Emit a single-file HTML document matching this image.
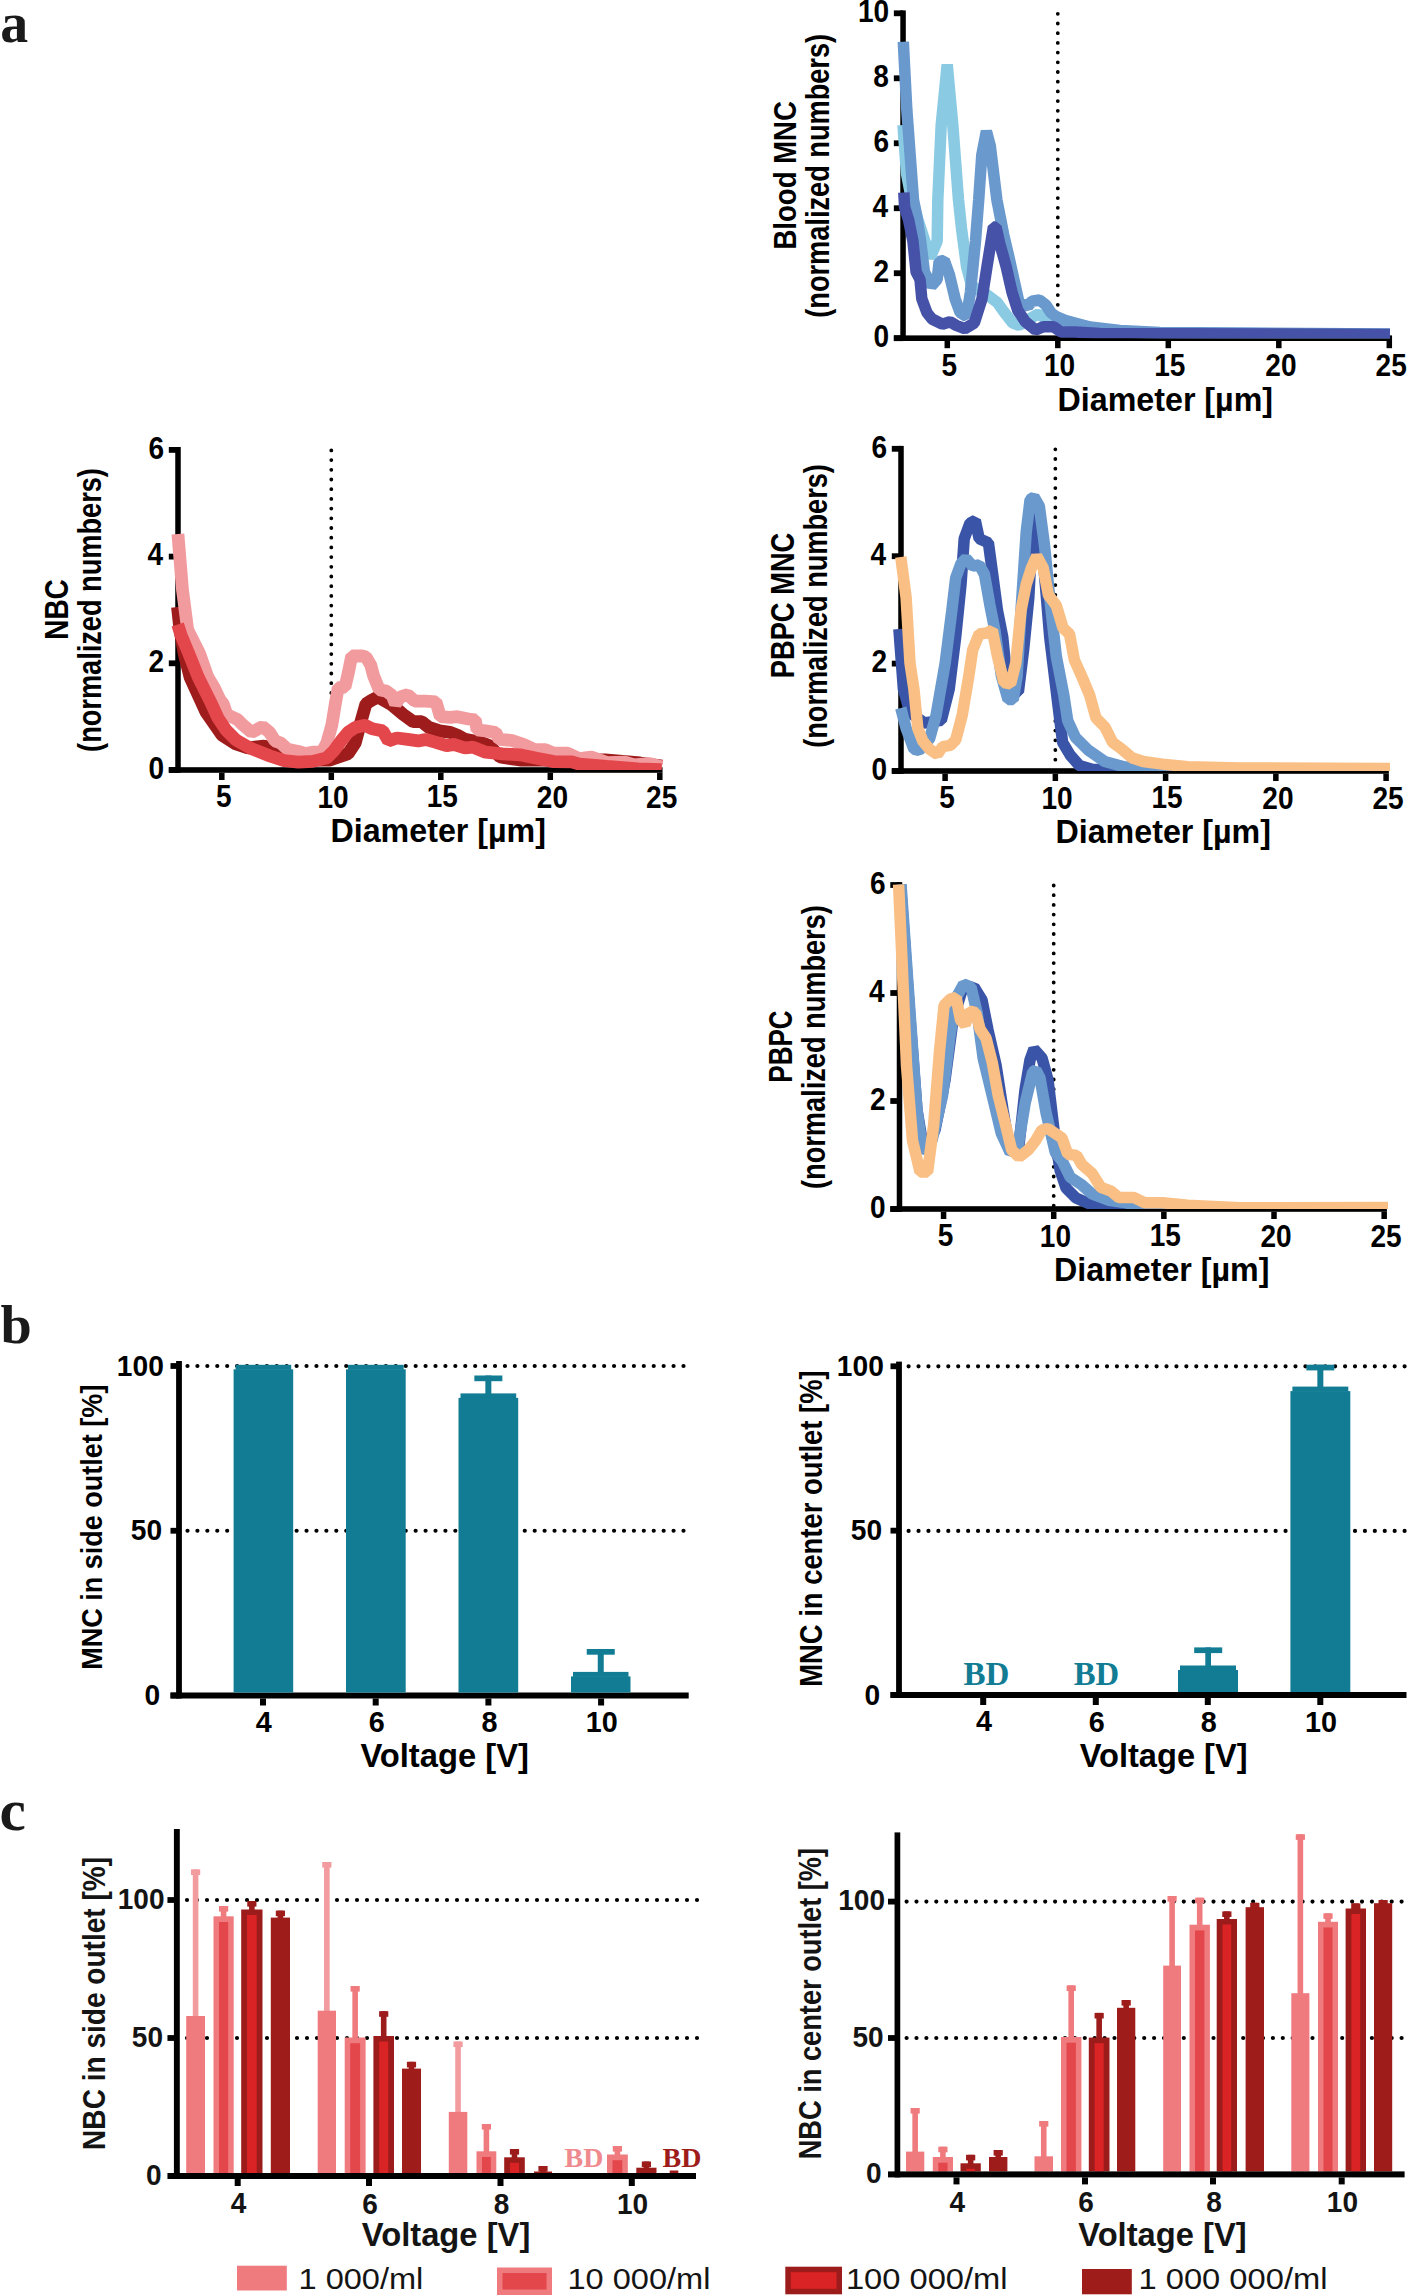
<!DOCTYPE html>
<html><head><meta charset="utf-8"><style>
html,body{margin:0;padding:0;background:#fff;}
svg{display:block;}
</style></head><body>
<svg width="1408" height="2296" viewBox="0 0 1408 2296">
<rect width="1408" height="2296" fill="#fff"/>
<text transform="translate(0.20,42.45) scale(0.9916,1)" font-family="&quot;Liberation Serif&quot;, serif" font-weight="bold" font-size="56.37" fill="#1a1a1a" >a</text>
<text transform="translate(0.39,1343.36) scale(1.0152,1)" font-family="&quot;Liberation Serif&quot;, serif" font-weight="bold" font-size="55.43" fill="#1a1a1a" >b</text>
<rect x="900.30" y="10.40" width="5.50" height="330.60" fill="#000"/>
<rect x="893.85" y="335.30" width="9.20" height="5.80" fill="#000"/>
<text transform="translate(873.60,346.90) scale(0.9200,1)" font-family="&quot;Liberation Sans&quot;, sans-serif" font-weight="bold" font-size="30.50" fill="#000" >0</text>
<rect x="893.85" y="270.32" width="9.20" height="5.80" fill="#000"/>
<text transform="translate(873.57,282.07) scale(0.9200,1)" font-family="&quot;Liberation Sans&quot;, sans-serif" font-weight="bold" font-size="30.50" fill="#000" >2</text>
<rect x="893.85" y="205.34" width="9.20" height="5.80" fill="#000"/>
<text transform="translate(872.60,216.93) scale(0.9200,1)" font-family="&quot;Liberation Sans&quot;, sans-serif" font-weight="bold" font-size="30.50" fill="#000" >4</text>
<rect x="893.85" y="140.36" width="9.20" height="5.80" fill="#000"/>
<text transform="translate(873.46,151.96) scale(0.9200,1)" font-family="&quot;Liberation Sans&quot;, sans-serif" font-weight="bold" font-size="30.50" fill="#000" >6</text>
<rect x="893.85" y="75.38" width="9.20" height="5.80" fill="#000"/>
<text transform="translate(873.31,86.98) scale(0.9200,1)" font-family="&quot;Liberation Sans&quot;, sans-serif" font-weight="bold" font-size="30.50" fill="#000" >8</text>
<rect x="893.85" y="10.40" width="9.20" height="5.80" fill="#000"/>
<text transform="translate(857.99,22.00) scale(0.9200,1)" font-family="&quot;Liberation Sans&quot;, sans-serif" font-weight="bold" font-size="30.50" fill="#000" >10</text>
<rect x="893.85" y="335.40" width="498.20" height="5.60" fill="#000"/>
<rect x="944.55" y="341.00" width="5.50" height="7.20" fill="#000"/>
<text transform="translate(941.46,375.68) scale(0.9200,1)" font-family="&quot;Liberation Sans&quot;, sans-serif" font-weight="bold" font-size="30.50" fill="#000" >5</text>
<rect x="1055.05" y="341.00" width="5.50" height="7.20" fill="#000"/>
<text transform="translate(1043.89,376.00) scale(0.9200,1)" font-family="&quot;Liberation Sans&quot;, sans-serif" font-weight="bold" font-size="30.50" fill="#000" >10</text>
<rect x="1165.55" y="341.00" width="5.50" height="7.20" fill="#000"/>
<text transform="translate(1154.20,375.68) scale(0.9200,1)" font-family="&quot;Liberation Sans&quot;, sans-serif" font-weight="bold" font-size="30.50" fill="#000" >15</text>
<rect x="1276.05" y="341.00" width="5.50" height="7.20" fill="#000"/>
<text transform="translate(1265.28,376.00) scale(0.9200,1)" font-family="&quot;Liberation Sans&quot;, sans-serif" font-weight="bold" font-size="30.50" fill="#000" >20</text>
<rect x="1386.55" y="341.00" width="5.50" height="7.20" fill="#000"/>
<text transform="translate(1375.60,376.00) scale(0.9200,1)" font-family="&quot;Liberation Sans&quot;, sans-serif" font-weight="bold" font-size="30.50" fill="#000" >25</text>
<line x1="1057.80" y1="13.80" x2="1057.80" y2="334.40" stroke="#000" stroke-width="3.80" stroke-linecap="round" stroke-dasharray="0 9.7"/>
<clipPath id="c27"><rect x="873.05" y="-26.700000000000045" width="546.2500000000002" height="364.90000000000003"/></clipPath><g clip-path="url(#c27)">
<polyline points="903.0,125.0 906.5,173.4 911.6,200.0 920.6,228.0 930.2,257.8 937.2,241.0 937.8,200.0 941.2,125.0 947.2,64.5 952.8,125.0 958.5,200.0 961.5,228.4 966.6,266.7 971.7,285.9 987.0,294.8 997.3,302.5 1003.7,311.5 1012.6,323.0 1019.0,325.5 1029.2,319.0 1038.2,314.0 1048.4,320.4 1061.0,323.0 1075.0,328.0 1100.0,331.0 1150.0,333.0 1390.0,334.5" fill="none" stroke="#8ACBE3" stroke-width="11.5" stroke-linejoin="bevel" stroke-linecap="butt"/>
<polyline points="903.3,41.7 906.8,109.5 913.5,200.0 916.7,215.6 920.6,241.0 924.4,271.8 931.4,285.9 937.2,279.5 939.1,261.6 944.2,260.3 949.3,274.4 955.1,298.7 960.2,312.7 966.6,316.6 970.4,292.3 975.5,241.0 978.7,200.0 981.8,155.0 986.4,131.2 990.3,146.0 996.9,200.0 1003.7,234.7 1008.8,256.5 1013.9,279.5 1019.0,302.5 1028.0,306.3 1031.8,301.2 1039.5,300.0 1045.9,305.0 1051.0,312.7 1056.1,316.6 1065.0,320.4 1075.0,323.0 1090.0,327.0 1120.0,330.5 1160.0,332.5 1390.0,334.0" fill="none" stroke="#6A99CD" stroke-width="11.5" stroke-linejoin="bevel" stroke-linecap="butt"/>
<polyline points="903.8,192.5 904.6,207.0 908.6,220.0 912.9,241.0 916.1,271.8 920.0,279.5 921.8,298.7 927.0,312.7 932.0,319.0 942.3,324.2 950.0,321.7 956.4,325.5 964.7,328.7 974.3,323.0 982.0,298.7 987.0,266.7 993.4,227.0 996.0,227.0 999.8,243.7 1006.2,266.7 1012.0,292.3 1017.7,310.2 1025.4,321.7 1035.6,330.0 1043.3,326.8 1053.5,326.8 1061.2,332.0 1075.0,332.0 1100.0,333.5 1390.0,334.5" fill="none" stroke="#4652A8" stroke-width="11.5" stroke-linejoin="bevel" stroke-linecap="butt"/>
</g>
<text transform="translate(1057.49,410.50) scale(0.9644,1)" font-family="&quot;Liberation Sans&quot;, sans-serif" font-weight="bold" font-size="33.43" fill="#000">Diameter [µm]</text>
<text transform="translate(828.95,317.70) rotate(-90) scale(0.8417,1)" font-family="&quot;Liberation Sans&quot;, sans-serif" font-weight="bold" font-size="32.29" fill="#000">(normalized numbers)</text>
<text transform="translate(795.94,249.60) rotate(-90) scale(0.8656,1)" font-family="&quot;Liberation Sans&quot;, sans-serif" font-weight="bold" font-size="31.86" fill="#000">Blood MNC</text>
<rect x="175.25" y="447.00" width="5.50" height="325.80" fill="#000"/>
<rect x="168.80" y="767.10" width="9.20" height="5.80" fill="#000"/>
<text transform="translate(148.55,778.70) scale(0.9200,1)" font-family="&quot;Liberation Sans&quot;, sans-serif" font-weight="bold" font-size="30.50" fill="#000" >0</text>
<rect x="168.80" y="660.40" width="9.20" height="5.80" fill="#000"/>
<text transform="translate(148.52,672.15) scale(0.9200,1)" font-family="&quot;Liberation Sans&quot;, sans-serif" font-weight="bold" font-size="30.50" fill="#000" >2</text>
<rect x="168.80" y="553.70" width="9.20" height="5.80" fill="#000"/>
<text transform="translate(147.55,565.29) scale(0.9200,1)" font-family="&quot;Liberation Sans&quot;, sans-serif" font-weight="bold" font-size="30.50" fill="#000" >4</text>
<rect x="168.80" y="447.00" width="9.20" height="5.80" fill="#000"/>
<text transform="translate(148.41,458.60) scale(0.9200,1)" font-family="&quot;Liberation Sans&quot;, sans-serif" font-weight="bold" font-size="30.50" fill="#000" >6</text>
<rect x="168.80" y="767.20" width="493.75" height="5.60" fill="#000"/>
<rect x="219.05" y="772.80" width="5.50" height="7.20" fill="#000"/>
<text transform="translate(215.96,807.48) scale(0.9200,1)" font-family="&quot;Liberation Sans&quot;, sans-serif" font-weight="bold" font-size="30.50" fill="#000" >5</text>
<rect x="328.55" y="772.80" width="5.50" height="7.20" fill="#000"/>
<text transform="translate(317.39,807.80) scale(0.9200,1)" font-family="&quot;Liberation Sans&quot;, sans-serif" font-weight="bold" font-size="30.50" fill="#000" >10</text>
<rect x="438.05" y="772.80" width="5.50" height="7.20" fill="#000"/>
<text transform="translate(426.70,807.48) scale(0.9200,1)" font-family="&quot;Liberation Sans&quot;, sans-serif" font-weight="bold" font-size="30.50" fill="#000" >15</text>
<rect x="547.55" y="772.80" width="5.50" height="7.20" fill="#000"/>
<text transform="translate(536.78,807.80) scale(0.9200,1)" font-family="&quot;Liberation Sans&quot;, sans-serif" font-weight="bold" font-size="30.50" fill="#000" >20</text>
<rect x="657.05" y="772.80" width="5.50" height="7.20" fill="#000"/>
<text transform="translate(646.10,807.80) scale(0.9200,1)" font-family="&quot;Liberation Sans&quot;, sans-serif" font-weight="bold" font-size="30.50" fill="#000" >25</text>
<line x1="331.30" y1="450.40" x2="331.30" y2="761.30" stroke="#000" stroke-width="3.80" stroke-linecap="round" stroke-dasharray="0 9.7"/>
<clipPath id="c56"><rect x="148" y="409.9" width="541.8" height="360.1"/></clipPath><g clip-path="url(#c56)">
<polyline points="177.5,607.0 180.0,630.0 184.0,653.0 190.0,677.0 206.0,712.0 222.0,735.0 236.0,744.0 248.0,748.0 264.0,746.0 280.0,752.0 300.0,760.0 330.0,760.0 348.1,753.6 355.2,743.0 360.9,721.7 365.9,703.9 371.4,700.4 378.0,697.0 392.0,705.0 403.4,714.6 413.3,721.7 421.8,721.7 428.9,727.4 439.6,730.9 450.2,732.3 457.3,735.2 465.0,739.4 480.0,742.0 490.0,746.0 500.0,757.0 520.0,760.0 560.0,760.0 605.0,760.0 640.0,763.0 662.0,766.0" fill="none" stroke="#9E1C1C" stroke-width="12.8" stroke-linejoin="bevel" stroke-linecap="butt"/>
<polyline points="177.9,534.1 182.5,590.0 187.7,630.0 199.5,653.4 207.7,676.9 214.7,688.6 220.0,700.0 223.3,703.9 226.8,714.6 237.5,719.5 243.2,725.2 251.7,732.3 262.4,726.6 269.5,732.3 275.0,740.9 280.7,743.0 287.8,749.4 298.4,751.5 305.5,753.6 312.6,752.2 321.8,752.2 326.8,743.0 331.8,725.2 335.3,703.9 338.2,687.6 345.0,687.0 348.5,672.0 351.7,656.0 362.0,656.0 366.0,657.0 370.7,664.9 373.5,675.5 379.2,689.7 386.3,691.1 392.0,695.4 395.5,703.9 400.5,696.8 407.6,694.7 414.7,701.1 425.4,701.1 436.0,701.8 440.3,716.7 450.2,717.4 457.3,716.7 468.5,719.0 475.3,719.8 477.0,730.0 485.6,730.9 495.8,732.6 499.2,739.4 511.2,740.3 523.9,744.6 535.0,749.7 545.3,749.7 553.8,753.1 567.8,753.2 579.5,758.7 591.3,757.1 606.9,762.6 624.8,762.2 634.2,765.0 649.8,763.7 661.6,767.0" fill="none" stroke="#F29B9F" stroke-width="12.8" stroke-linejoin="bevel" stroke-linecap="butt"/>
<polyline points="177.7,624.5 181.0,635.0 188.7,653.4 198.1,676.9 209.8,700.3 218.0,718.0 226.0,730.0 236.0,740.0 250.0,748.0 270.0,756.0 284.2,760.7 298.4,762.2 312.6,761.4 326.8,757.9 333.9,750.8 341.0,740.9 348.1,732.3 355.2,727.4 365.0,725.2 372.1,728.8 382.8,730.9 388.4,740.9 397.0,738.0 407.6,739.4 418.3,740.9 425.4,739.4 436.0,742.3 446.7,745.7 453.8,744.4 465.0,748.0 472.8,747.1 485.6,752.2 502.6,753.9 519.7,754.8 536.7,758.2 553.8,761.6 571.7,761.9 579.5,764.2 606.9,766.5 638.0,768.9 661.6,769.6" fill="none" stroke="#E4474B" stroke-width="12.8" stroke-linejoin="bevel" stroke-linecap="butt"/>
</g>
<text transform="translate(330.44,842.30) scale(0.9644,1)" font-family="&quot;Liberation Sans&quot;, sans-serif" font-weight="bold" font-size="33.43" fill="#000">Diameter [µm]</text>
<text transform="translate(100.90,751.90) rotate(-90) scale(0.8417,1)" font-family="&quot;Liberation Sans&quot;, sans-serif" font-weight="bold" font-size="32.29" fill="#000">(normalized numbers)</text>
<text transform="translate(67.88,639.82) rotate(-90) scale(0.8468,1)" font-family="&quot;Liberation Sans&quot;, sans-serif" font-weight="bold" font-size="33.05" fill="#000">NBC</text>
<rect x="898.25" y="445.90" width="5.50" height="327.90" fill="#000"/>
<rect x="891.80" y="768.10" width="9.20" height="5.80" fill="#000"/>
<text transform="translate(871.55,779.70) scale(0.9200,1)" font-family="&quot;Liberation Sans&quot;, sans-serif" font-weight="bold" font-size="30.50" fill="#000" >0</text>
<rect x="891.80" y="660.70" width="9.20" height="5.80" fill="#000"/>
<text transform="translate(871.52,672.45) scale(0.9200,1)" font-family="&quot;Liberation Sans&quot;, sans-serif" font-weight="bold" font-size="30.50" fill="#000" >2</text>
<rect x="891.80" y="553.30" width="9.20" height="5.80" fill="#000"/>
<text transform="translate(870.55,564.89) scale(0.9200,1)" font-family="&quot;Liberation Sans&quot;, sans-serif" font-weight="bold" font-size="30.50" fill="#000" >4</text>
<rect x="891.80" y="445.90" width="9.20" height="5.80" fill="#000"/>
<text transform="translate(871.41,457.50) scale(0.9200,1)" font-family="&quot;Liberation Sans&quot;, sans-serif" font-weight="bold" font-size="30.50" fill="#000" >6</text>
<rect x="891.80" y="768.20" width="497.05" height="5.60" fill="#000"/>
<rect x="942.35" y="773.80" width="5.50" height="7.20" fill="#000"/>
<text transform="translate(939.26,808.48) scale(0.9200,1)" font-family="&quot;Liberation Sans&quot;, sans-serif" font-weight="bold" font-size="30.50" fill="#000" >5</text>
<rect x="1052.60" y="773.80" width="5.50" height="7.20" fill="#000"/>
<text transform="translate(1041.44,808.80) scale(0.9200,1)" font-family="&quot;Liberation Sans&quot;, sans-serif" font-weight="bold" font-size="30.50" fill="#000" >10</text>
<rect x="1162.85" y="773.80" width="5.50" height="7.20" fill="#000"/>
<text transform="translate(1151.50,808.48) scale(0.9200,1)" font-family="&quot;Liberation Sans&quot;, sans-serif" font-weight="bold" font-size="30.50" fill="#000" >15</text>
<rect x="1273.10" y="773.80" width="5.50" height="7.20" fill="#000"/>
<text transform="translate(1262.33,808.80) scale(0.9200,1)" font-family="&quot;Liberation Sans&quot;, sans-serif" font-weight="bold" font-size="30.50" fill="#000" >20</text>
<rect x="1383.35" y="773.80" width="5.50" height="7.20" fill="#000"/>
<text transform="translate(1372.40,808.80) scale(0.9200,1)" font-family="&quot;Liberation Sans&quot;, sans-serif" font-weight="bold" font-size="30.50" fill="#000" >25</text>
<line x1="1055.35" y1="449.30" x2="1055.35" y2="760.20" stroke="#000" stroke-width="3.80" stroke-linecap="round" stroke-dasharray="0 9.7"/>
<clipPath id="c85"><rect x="871" y="408.79999999999995" width="545.0999999999999" height="362.20000000000005"/></clipPath><g clip-path="url(#c85)">
<polyline points="898.9,629.0 903.4,689.0 910.0,712.6 924.3,723.0 941.3,720.4 949.2,689.0 955.7,636.8 961.0,584.5 964.2,538.8 970.0,523.1 975.3,520.5 979.2,538.8 988.4,542.7 992.3,571.5 997.5,610.7 1002.7,636.8 1006.6,676.0 1010.6,693.0 1018.4,691.7 1023.6,649.9 1028.8,597.6 1034.0,499.6 1040.0,520.0 1049.7,636.8 1057.6,702.1 1062.6,742.4 1070.2,755.1 1079.2,765.4 1092.0,769.2 1390.0,769.5" fill="none" stroke="#3A55A7" stroke-width="11.5" stroke-linejoin="bevel" stroke-linecap="butt"/>
<polyline points="900.8,708.0 906.1,728.3 913.9,749.2 919.1,750.5 929.6,738.7 936.1,715.2 945.2,663.0 951.8,610.7 955.7,578.0 960.9,563.6 966.1,558.4 972.7,566.2 979.2,564.9 984.4,574.1 989.7,604.1 994.9,630.3 1001.4,676.0 1008.0,699.5 1013.2,699.5 1017.1,676.0 1021.0,610.7 1026.2,532.3 1030.1,499.6 1034.0,497.0 1039.3,506.1 1044.5,545.3 1049.7,597.6 1056.3,656.4 1063.8,695.0 1067.7,720.6 1075.3,737.2 1088.1,750.0 1104.7,761.5 1123.9,766.7 1149.5,769.2 1390.0,769.5" fill="none" stroke="#6A99CD" stroke-width="11.5" stroke-linejoin="bevel" stroke-linecap="butt"/>
<polyline points="900.8,557.1 906.1,597.6 910.0,663.0 913.9,689.0 917.8,728.3 923.0,741.3 929.6,749.2 937.4,754.4 942.6,746.6 950.5,745.3 955.7,740.0 962.2,715.2 968.8,676.0 972.7,649.9 979.2,634.0 987.0,633.0 992.3,630.0 997.5,656.4 1004.0,682.5 1010.6,683.8 1015.8,663.0 1021.0,610.7 1026.2,584.5 1031.4,568.0 1036.7,556.0 1043.2,568.0 1048.4,595.0 1056.3,605.4 1063.0,628.0 1069.5,634.0 1074.4,660.0 1083.2,679.7 1089.6,695.0 1096.0,718.0 1104.9,727.0 1112.6,742.4 1121.5,748.8 1131.8,757.7 1143.1,761.5 1162.3,764.1 1187.8,766.7 1240.0,768.0 1390.0,768.5" fill="none" stroke="#F9BF84" stroke-width="11.5" stroke-linejoin="bevel" stroke-linecap="butt"/>
</g>
<text transform="translate(1055.44,843.30) scale(0.9644,1)" font-family="&quot;Liberation Sans&quot;, sans-serif" font-weight="bold" font-size="33.43" fill="#000">Diameter [µm]</text>
<text transform="translate(826.90,747.85) rotate(-90) scale(0.8417,1)" font-family="&quot;Liberation Sans&quot;, sans-serif" font-weight="bold" font-size="32.29" fill="#000">(normalized numbers)</text>
<text transform="translate(793.88,678.23) rotate(-90) scale(0.8258,1)" font-family="&quot;Liberation Sans&quot;, sans-serif" font-weight="bold" font-size="33.05" fill="#000">PBPC MNC</text>
<rect x="896.75" y="882.10" width="5.50" height="329.70" fill="#000"/>
<rect x="890.30" y="1206.10" width="9.20" height="5.80" fill="#000"/>
<text transform="translate(870.05,1217.70) scale(0.9200,1)" font-family="&quot;Liberation Sans&quot;, sans-serif" font-weight="bold" font-size="30.50" fill="#000" >0</text>
<rect x="890.30" y="1098.10" width="9.20" height="5.80" fill="#000"/>
<text transform="translate(870.02,1109.85) scale(0.9200,1)" font-family="&quot;Liberation Sans&quot;, sans-serif" font-weight="bold" font-size="30.50" fill="#000" >2</text>
<rect x="890.30" y="990.10" width="9.20" height="5.80" fill="#000"/>
<text transform="translate(869.05,1001.69) scale(0.9200,1)" font-family="&quot;Liberation Sans&quot;, sans-serif" font-weight="bold" font-size="30.50" fill="#000" >4</text>
<rect x="890.30" y="882.10" width="9.20" height="5.80" fill="#000"/>
<text transform="translate(869.91,893.70) scale(0.9200,1)" font-family="&quot;Liberation Sans&quot;, sans-serif" font-weight="bold" font-size="30.50" fill="#000" >6</text>
<rect x="890.30" y="1206.20" width="496.61" height="5.60" fill="#000"/>
<rect x="940.81" y="1211.80" width="5.50" height="7.20" fill="#000"/>
<text transform="translate(937.72,1246.48) scale(0.9200,1)" font-family="&quot;Liberation Sans&quot;, sans-serif" font-weight="bold" font-size="30.50" fill="#000" >5</text>
<rect x="1050.96" y="1211.80" width="5.50" height="7.20" fill="#000"/>
<text transform="translate(1039.80,1246.80) scale(0.9200,1)" font-family="&quot;Liberation Sans&quot;, sans-serif" font-weight="bold" font-size="30.50" fill="#000" >10</text>
<rect x="1161.11" y="1211.80" width="5.50" height="7.20" fill="#000"/>
<text transform="translate(1149.76,1246.48) scale(0.9200,1)" font-family="&quot;Liberation Sans&quot;, sans-serif" font-weight="bold" font-size="30.50" fill="#000" >15</text>
<rect x="1271.26" y="1211.80" width="5.50" height="7.20" fill="#000"/>
<text transform="translate(1260.49,1246.80) scale(0.9200,1)" font-family="&quot;Liberation Sans&quot;, sans-serif" font-weight="bold" font-size="30.50" fill="#000" >20</text>
<rect x="1381.41" y="1211.80" width="5.50" height="7.20" fill="#000"/>
<text transform="translate(1370.46,1246.80) scale(0.9200,1)" font-family="&quot;Liberation Sans&quot;, sans-serif" font-weight="bold" font-size="30.50" fill="#000" >25</text>
<line x1="1053.71" y1="885.50" x2="1053.71" y2="1206.10" stroke="#000" stroke-width="3.80" stroke-linecap="round" stroke-dasharray="0 9.7"/>
<clipPath id="c114"><rect x="869.5" y="845.0" width="544.6600000000001" height="364.0"/></clipPath><g clip-path="url(#c114)">
<polyline points="900.5,884.5 909.0,1005.0 917.0,1110.0 924.0,1152.0 935.0,1130.0 945.0,1080.0 953.0,1020.0 962.0,990.0 974.0,987.0 982.0,1000.0 988.0,1030.0 996.0,1065.0 1003.0,1110.0 1010.0,1152.0 1019.0,1145.0 1025.0,1090.0 1030.0,1060.0 1034.0,1049.0 1042.0,1058.0 1048.0,1080.0 1054.0,1130.0 1060.0,1170.0 1066.0,1188.0 1076.0,1198.0 1090.0,1204.0 1100.0,1208.0 1111.0,1208.5 1388.0,1208.5" fill="none" stroke="#3A55A7" stroke-width="11.5" stroke-linejoin="bevel" stroke-linecap="butt"/>
<polyline points="901.0,884.5 909.5,1005.2 917.0,1110.4 923.0,1152.5 932.0,1140.5 942.6,1095.4 950.1,1035.3 956.1,997.7 963.6,984.2 971.1,987.2 977.1,1012.7 983.1,1057.8 992.2,1095.4 1001.2,1133.0 1010.2,1152.5 1017.7,1148.0 1025.2,1102.9 1032.7,1072.0 1036.0,1070.0 1040.0,1078.0 1046.2,1113.4 1055.3,1152.5 1062.6,1161.8 1070.2,1177.2 1081.7,1184.8 1092.0,1193.8 1108.6,1200.2 1126.5,1202.7 1139.3,1207.8 1388.0,1208.0" fill="none" stroke="#6A99CD" stroke-width="11.5" stroke-linejoin="bevel" stroke-linecap="butt"/>
<polyline points="898.6,884.5 902.0,960.2 906.5,1065.3 912.5,1140.5 920.0,1172.0 927.6,1172.0 933.6,1125.4 939.6,1050.3 944.1,1005.2 950.1,999.2 956.1,997.7 960.6,1020.3 965.1,1024.8 969.6,1011.2 975.6,1012.7 980.1,1029.3 986.1,1038.3 992.2,1062.3 998.2,1095.4 1005.7,1125.4 1011.7,1150.0 1019.2,1157.0 1028.2,1150.0 1035.7,1140.5 1041.7,1130.0 1047.8,1128.5 1056.8,1134.5 1062.0,1138.0 1067.7,1154.2 1076.6,1155.4 1081.7,1164.4 1092.0,1173.3 1100.9,1187.4 1111.1,1191.2 1118.8,1197.6 1134.1,1197.6 1144.4,1202.7 1162.3,1202.7 1187.8,1205.3 1240.0,1207.8 1388.0,1207.5" fill="none" stroke="#F9BF84" stroke-width="11.5" stroke-linejoin="bevel" stroke-linecap="butt"/>
</g>
<text transform="translate(1053.94,1281.30) scale(0.9644,1)" font-family="&quot;Liberation Sans&quot;, sans-serif" font-weight="bold" font-size="33.43" fill="#000">Diameter [µm]</text>
<text transform="translate(825.40,1188.95) rotate(-90) scale(0.8417,1)" font-family="&quot;Liberation Sans&quot;, sans-serif" font-weight="bold" font-size="32.29" fill="#000">(normalized numbers)</text>
<text transform="translate(792.38,1082.74) rotate(-90) scale(0.7891,1)" font-family="&quot;Liberation Sans&quot;, sans-serif" font-weight="bold" font-size="33.05" fill="#000">PBPC</text>
<rect x="176.10" y="1361.00" width="5.80" height="337.50" fill="#000"/>
<rect x="170.50" y="1692.60" width="8.50" height="5.80" fill="#000"/>
<rect x="170.50" y="1527.85" width="8.50" height="5.80" fill="#000"/>
<rect x="170.50" y="1363.10" width="8.50" height="5.80" fill="#000"/>
<rect x="170.50" y="1692.50" width="518.20" height="6.00" fill="#000"/>
<rect x="260.00" y="1698.50" width="6.00" height="7.00" fill="#000"/>
<rect x="372.70" y="1698.50" width="6.00" height="7.00" fill="#000"/>
<rect x="485.40" y="1698.50" width="6.00" height="7.00" fill="#000"/>
<rect x="598.10" y="1698.50" width="6.00" height="7.00" fill="#000"/>
<line x1="187.50" y1="1366.00" x2="684.00" y2="1366.00" stroke="#000" stroke-width="4.20" stroke-linecap="round" stroke-dasharray="0 9.92"/>
<line x1="187.50" y1="1530.75" x2="684.00" y2="1530.75" stroke="#000" stroke-width="4.20" stroke-linecap="round" stroke-dasharray="0 9.92"/>
<rect x="235.60" y="1364.80" width="55.60" height="5.00" fill="#117C93"/>
<rect x="233.60" y="1369.30" width="59.60" height="323.20" fill="#117C93"/>
<rect x="348.00" y="1364.80" width="55.70" height="5.00" fill="#117C93"/>
<rect x="346.00" y="1369.30" width="59.70" height="323.20" fill="#117C93"/>
<rect x="460.50" y="1393.40" width="55.70" height="5.00" fill="#117C93"/>
<rect x="458.50" y="1397.90" width="59.70" height="294.60" fill="#117C93"/>
<rect x="485.35" y="1375.50" width="6.00" height="18.90" fill="#117C93"/>
<rect x="474.35" y="1375.50" width="28.00" height="5.70" fill="#117C93"/>
<rect x="573.00" y="1671.90" width="55.50" height="5.00" fill="#117C93"/>
<rect x="571.00" y="1676.40" width="59.50" height="16.10" fill="#117C93"/>
<rect x="597.75" y="1649.00" width="6.00" height="23.90" fill="#117C93"/>
<rect x="586.75" y="1649.00" width="28.00" height="5.70" fill="#117C93"/>
<text transform="translate(144.48,1705.13) scale(0.9300,1)" font-family="&quot;Liberation Sans&quot;, sans-serif" font-weight="bold" font-size="30.30" fill="#000" >0</text>
<text transform="translate(130.81,1540.38) scale(0.9300,1)" font-family="&quot;Liberation Sans&quot;, sans-serif" font-weight="bold" font-size="30.30" fill="#000" >50</text>
<text transform="translate(116.84,1375.63) scale(0.9300,1)" font-family="&quot;Liberation Sans&quot;, sans-serif" font-weight="bold" font-size="30.30" fill="#000" >100</text>
<text transform="translate(255.86,1731.85) scale(0.9500,1)" font-family="&quot;Liberation Sans&quot;, sans-serif" font-weight="bold" font-size="30.30" fill="#000" >4</text>
<text transform="translate(368.69,1732.16) scale(0.9500,1)" font-family="&quot;Liberation Sans&quot;, sans-serif" font-weight="bold" font-size="30.30" fill="#000" >6</text>
<text transform="translate(481.38,1732.16) scale(0.9500,1)" font-family="&quot;Liberation Sans&quot;, sans-serif" font-weight="bold" font-size="30.30" fill="#000" >8</text>
<text transform="translate(585.77,1732.16) scale(0.9500,1)" font-family="&quot;Liberation Sans&quot;, sans-serif" font-weight="bold" font-size="30.30" fill="#000" >10</text>
<text transform="translate(360.38,1766.50) scale(0.9713,1)" font-family="&quot;Liberation Sans&quot;, sans-serif" font-weight="bold" font-size="33.72" fill="#000">Voltage [V]</text>
<text transform="translate(102.27,1669.81) rotate(-90) scale(0.8999,1)" font-family="&quot;Liberation Sans&quot;, sans-serif" font-weight="bold" font-size="30.04" fill="#000">MNC in side outlet [%]</text>
<rect x="896.10" y="1361.60" width="5.80" height="336.40" fill="#000"/>
<rect x="890.50" y="1692.10" width="8.50" height="5.80" fill="#000"/>
<rect x="890.50" y="1527.75" width="8.50" height="5.80" fill="#000"/>
<rect x="890.50" y="1363.40" width="8.50" height="5.80" fill="#000"/>
<rect x="890.50" y="1692.00" width="516.00" height="6.00" fill="#000"/>
<rect x="980.20" y="1698.00" width="6.00" height="7.00" fill="#000"/>
<rect x="1092.80" y="1698.00" width="6.00" height="7.00" fill="#000"/>
<rect x="1204.80" y="1698.00" width="6.00" height="7.00" fill="#000"/>
<rect x="1317.30" y="1698.00" width="6.00" height="7.00" fill="#000"/>
<line x1="908.60" y1="1366.30" x2="1405.10" y2="1366.30" stroke="#000" stroke-width="4.20" stroke-linecap="round" stroke-dasharray="0 9.92"/>
<line x1="908.60" y1="1530.90" x2="1405.10" y2="1530.90" stroke="#000" stroke-width="4.20" stroke-linecap="round" stroke-dasharray="0 9.92"/>
<rect x="1180.00" y="1665.50" width="56.00" height="5.00" fill="#117C93"/>
<rect x="1178.00" y="1670.00" width="60.00" height="22.00" fill="#117C93"/>
<rect x="1292.40" y="1386.60" width="55.90" height="5.00" fill="#117C93"/>
<rect x="1290.40" y="1391.10" width="59.90" height="300.90" fill="#117C93"/>
<rect x="1317.35" y="1364.70" width="6.00" height="22.90" fill="#117C93"/>
<rect x="1306.35" y="1364.70" width="28.00" height="5.70" fill="#117C93"/>
<rect x="1194.20" y="1647.40" width="28.00" height="5.70" fill="#117C93"/>
<rect x="1205.30" y="1647.40" width="5.70" height="18.60" fill="#117C93"/>
<text transform="translate(864.48,1704.63) scale(0.9300,1)" font-family="&quot;Liberation Sans&quot;, sans-serif" font-weight="bold" font-size="30.30" fill="#000" >0</text>
<text transform="translate(850.81,1540.28) scale(0.9300,1)" font-family="&quot;Liberation Sans&quot;, sans-serif" font-weight="bold" font-size="30.30" fill="#000" >50</text>
<text transform="translate(836.84,1375.93) scale(0.9300,1)" font-family="&quot;Liberation Sans&quot;, sans-serif" font-weight="bold" font-size="30.30" fill="#000" >100</text>
<text transform="translate(976.06,1731.35) scale(0.9500,1)" font-family="&quot;Liberation Sans&quot;, sans-serif" font-weight="bold" font-size="30.30" fill="#000" >4</text>
<text transform="translate(1088.79,1731.66) scale(0.9500,1)" font-family="&quot;Liberation Sans&quot;, sans-serif" font-weight="bold" font-size="30.30" fill="#000" >6</text>
<text transform="translate(1200.78,1731.66) scale(0.9500,1)" font-family="&quot;Liberation Sans&quot;, sans-serif" font-weight="bold" font-size="30.30" fill="#000" >8</text>
<text transform="translate(1304.97,1731.66) scale(0.9500,1)" font-family="&quot;Liberation Sans&quot;, sans-serif" font-weight="bold" font-size="30.30" fill="#000" >10</text>
<text transform="translate(963.55,1685.40) scale(0.9545,1)" font-family="&quot;Liberation Serif&quot;, serif" font-weight="bold" font-size="34.67" fill="#117C93" >BD</text>
<text transform="translate(1073.66,1685.40) scale(0.9458,1)" font-family="&quot;Liberation Serif&quot;, serif" font-weight="bold" font-size="34.67" fill="#117C93" >BD</text>
<text transform="translate(1079.68,1766.50) scale(0.9673,1)" font-family="&quot;Liberation Sans&quot;, sans-serif" font-weight="bold" font-size="33.72" fill="#000">Voltage [V]</text>
<text transform="translate(821.54,1686.73) rotate(-90) scale(0.8803,1)" font-family="&quot;Liberation Sans&quot;, sans-serif" font-weight="bold" font-size="31.11" fill="#000">MNC in center outlet [%]</text>
<text transform="translate(-0.53,1830.15) scale(0.9955,1)" font-family="&quot;Liberation Serif&quot;, serif" font-weight="bold" font-size="59.53" fill="#1a1a1a" >c</text>
<rect x="173.90" y="1829.00" width="5.90" height="350.00" fill="#000"/>
<rect x="167.45" y="1897.10" width="9.40" height="5.80" fill="#000"/>
<rect x="167.45" y="2035.10" width="9.40" height="5.80" fill="#000"/>
<line x1="187.00" y1="1900.00" x2="697.50" y2="1900.00" stroke="#000" stroke-width="4.20" stroke-linecap="round" stroke-dasharray="0 10.0"/>
<line x1="187.00" y1="2038.00" x2="697.50" y2="2038.00" stroke="#000" stroke-width="4.20" stroke-linecap="round" stroke-dasharray="0 10.0"/>
<rect x="192.80" y="1869.40" width="5.60" height="147.60" fill="#F29CA0"/>
<rect x="191.00" y="1869.40" width="9.20" height="5.60" fill="#F29CA0"/>
<rect x="186.20" y="2016.00" width="18.80" height="157.00" fill="#EF7B7E"/>
<rect x="220.80" y="1906.00" width="5.60" height="11.30" fill="#EF7B7E"/>
<rect x="219.00" y="1906.00" width="9.20" height="5.60" fill="#EF7B7E"/>
<rect x="213.50" y="1916.30" width="20.20" height="256.70" fill="#EF7B7E"/>
<rect x="219.00" y="1922.00" width="9.20" height="251.00" fill="#E4474B"/>
<rect x="249.05" y="1901.00" width="5.60" height="9.50" fill="#9C1C1B"/>
<rect x="247.25" y="1901.00" width="9.20" height="5.60" fill="#9C1C1B"/>
<rect x="241.20" y="1909.50" width="21.30" height="263.50" fill="#9C1C1B"/>
<rect x="247.00" y="1915.00" width="9.70" height="258.00" fill="#D92324"/>
<rect x="277.60" y="1910.60" width="5.60" height="8.00" fill="#9E1C1A"/>
<rect x="275.80" y="1910.60" width="9.20" height="5.60" fill="#9E1C1A"/>
<rect x="270.80" y="1917.60" width="19.20" height="255.40" fill="#9E1C1A"/>
<rect x="324.05" y="1862.00" width="5.60" height="149.70" fill="#F29CA0"/>
<rect x="322.25" y="1862.00" width="9.20" height="5.60" fill="#F29CA0"/>
<rect x="317.70" y="2010.70" width="18.30" height="162.30" fill="#EF7B7E"/>
<rect x="352.35" y="1986.00" width="5.60" height="52.50" fill="#EF7B7E"/>
<rect x="350.55" y="1986.00" width="9.20" height="5.60" fill="#EF7B7E"/>
<rect x="344.70" y="2037.50" width="20.90" height="135.50" fill="#EF7B7E"/>
<rect x="350.20" y="2043.20" width="9.90" height="129.80" fill="#E4474B"/>
<rect x="380.90" y="2011.20" width="5.60" height="25.80" fill="#9C1C1B"/>
<rect x="379.10" y="2011.20" width="9.20" height="5.60" fill="#9C1C1B"/>
<rect x="373.40" y="2036.00" width="20.60" height="137.00" fill="#9C1C1B"/>
<rect x="379.20" y="2041.50" width="9.00" height="131.50" fill="#D92324"/>
<rect x="408.70" y="2061.80" width="5.60" height="7.80" fill="#9E1C1A"/>
<rect x="406.90" y="2061.80" width="9.20" height="5.60" fill="#9E1C1A"/>
<rect x="402.00" y="2068.60" width="19.00" height="104.40" fill="#9E1C1A"/>
<rect x="455.25" y="2041.50" width="5.60" height="71.40" fill="#F29CA0"/>
<rect x="453.45" y="2041.50" width="9.20" height="5.60" fill="#F29CA0"/>
<rect x="448.80" y="2111.90" width="18.50" height="61.10" fill="#EF7B7E"/>
<rect x="483.60" y="2124.00" width="5.60" height="28.30" fill="#EF7B7E"/>
<rect x="481.80" y="2124.00" width="9.20" height="5.60" fill="#EF7B7E"/>
<rect x="476.50" y="2151.30" width="19.80" height="21.70" fill="#EF7B7E"/>
<rect x="482.00" y="2157.00" width="8.80" height="16.00" fill="#E4474B"/>
<rect x="511.70" y="2149.00" width="5.60" height="9.30" fill="#9C1C1B"/>
<rect x="509.90" y="2149.00" width="9.20" height="5.60" fill="#9C1C1B"/>
<rect x="504.20" y="2157.30" width="20.60" height="15.70" fill="#9C1C1B"/>
<rect x="510.00" y="2162.80" width="9.00" height="10.20" fill="#D92324"/>
<rect x="540.20" y="2166.00" width="5.60" height="6.50" fill="#9E1C1A"/>
<rect x="538.40" y="2166.00" width="9.20" height="5.60" fill="#9E1C1A"/>
<rect x="534.00" y="2171.50" width="18.00" height="1.50" fill="#9E1C1A"/>
<rect x="614.60" y="2146.00" width="5.60" height="9.50" fill="#EF7B7E"/>
<rect x="612.80" y="2146.00" width="9.20" height="5.60" fill="#EF7B7E"/>
<rect x="607.00" y="2154.50" width="20.80" height="18.50" fill="#EF7B7E"/>
<rect x="612.50" y="2160.20" width="9.80" height="12.80" fill="#E4474B"/>
<rect x="643.60" y="2161.50" width="5.60" height="7.20" fill="#9C1C1B"/>
<rect x="641.80" y="2161.50" width="9.20" height="5.60" fill="#9C1C1B"/>
<rect x="636.30" y="2167.70" width="20.20" height="5.30" fill="#9C1C1B"/>
<rect x="642.10" y="2173.20" width="8.60" height="-0.20" fill="#D92324"/>
<rect x="669.70" y="2170.50" width="8.60" height="3.50" fill="#9E1C1A"/>
<rect x="167.45" y="2173.00" width="528.55" height="6.00" fill="#000"/>
<rect x="234.70" y="2179.00" width="6.00" height="7.00" fill="#000"/>
<rect x="366.00" y="2179.00" width="6.00" height="7.00" fill="#000"/>
<rect x="497.50" y="2179.00" width="6.00" height="7.00" fill="#000"/>
<rect x="628.80" y="2179.00" width="6.00" height="7.00" fill="#000"/>
<text transform="translate(145.91,2184.66) scale(0.9500,1)" font-family="&quot;Liberation Sans&quot;, sans-serif" font-weight="bold" font-size="29.50" fill="#141414" >0</text>
<text transform="translate(131.83,2046.66) scale(0.9500,1)" font-family="&quot;Liberation Sans&quot;, sans-serif" font-weight="bold" font-size="29.50" fill="#141414" >50</text>
<text transform="translate(117.74,1908.66) scale(0.9500,1)" font-family="&quot;Liberation Sans&quot;, sans-serif" font-weight="bold" font-size="29.50" fill="#141414" >100</text>
<text transform="translate(230.77,2213.30) scale(0.9500,1)" font-family="&quot;Liberation Sans&quot;, sans-serif" font-weight="bold" font-size="29.50" fill="#141414" >4</text>
<text transform="translate(362.20,2213.60) scale(0.9500,1)" font-family="&quot;Liberation Sans&quot;, sans-serif" font-weight="bold" font-size="29.50" fill="#141414" >6</text>
<text transform="translate(493.69,2213.60) scale(0.9500,1)" font-family="&quot;Liberation Sans&quot;, sans-serif" font-weight="bold" font-size="29.50" fill="#141414" >8</text>
<text transform="translate(616.91,2213.60) scale(0.9500,1)" font-family="&quot;Liberation Sans&quot;, sans-serif" font-weight="bold" font-size="29.50" fill="#141414" >10</text>
<text transform="translate(564.54,2166.52) scale(1.0445,1)" font-family="&quot;Liberation Serif&quot;, serif" font-weight="bold" font-size="26.76" fill="#EF8A8E" >BD</text>
<text transform="translate(662.54,2166.52) scale(1.0445,1)" font-family="&quot;Liberation Serif&quot;, serif" font-weight="bold" font-size="26.76" fill="#9E1C1A" >BD</text>
<text transform="translate(361.78,2246.00) scale(0.9713,1)" font-family="&quot;Liberation Sans&quot;, sans-serif" font-weight="bold" font-size="33.72" fill="#141414">Voltage [V]</text>
<text transform="translate(105.20,2149.88) rotate(-90) scale(0.8689,1)" font-family="&quot;Liberation Sans&quot;, sans-serif" font-weight="bold" font-size="32.29" fill="#141414">NBC in side outlet [%]</text>
<rect x="894.55" y="1832.40" width="5.70" height="345.00" fill="#000"/>
<rect x="888.00" y="1898.70" width="9.40" height="5.80" fill="#000"/>
<rect x="888.00" y="2035.10" width="9.40" height="5.80" fill="#000"/>
<line x1="906.60" y1="1901.60" x2="1402.10" y2="1901.60" stroke="#000" stroke-width="4.20" stroke-linecap="round" stroke-dasharray="0 9.9"/>
<line x1="906.60" y1="2038.00" x2="1402.10" y2="2038.00" stroke="#000" stroke-width="4.20" stroke-linecap="round" stroke-dasharray="0 9.9"/>
<rect x="912.35" y="2108.00" width="5.60" height="44.60" fill="#EF7B7E"/>
<rect x="910.55" y="2108.00" width="9.20" height="5.60" fill="#EF7B7E"/>
<rect x="906.00" y="2151.60" width="18.30" height="19.90" fill="#EF7B7E"/>
<rect x="940.10" y="2146.70" width="5.60" height="11.30" fill="#EF7B7E"/>
<rect x="938.30" y="2146.70" width="9.20" height="5.60" fill="#EF7B7E"/>
<rect x="932.80" y="2157.00" width="20.20" height="14.50" fill="#EF7B7E"/>
<rect x="938.30" y="2162.70" width="9.20" height="8.80" fill="#E4474B"/>
<rect x="967.85" y="2154.80" width="5.60" height="9.50" fill="#9C1C1B"/>
<rect x="966.05" y="2154.80" width="9.20" height="5.60" fill="#9C1C1B"/>
<rect x="960.50" y="2163.30" width="20.30" height="8.20" fill="#9C1C1B"/>
<rect x="966.30" y="2168.80" width="8.70" height="2.70" fill="#D92324"/>
<rect x="995.40" y="2150.00" width="5.60" height="8.00" fill="#9E1C1A"/>
<rect x="993.60" y="2150.00" width="9.20" height="5.60" fill="#9E1C1A"/>
<rect x="989.00" y="2157.00" width="18.40" height="14.50" fill="#9E1C1A"/>
<rect x="1040.95" y="2121.00" width="5.60" height="36.30" fill="#EF7B7E"/>
<rect x="1039.15" y="2121.00" width="9.20" height="5.60" fill="#EF7B7E"/>
<rect x="1034.50" y="2156.30" width="18.50" height="15.20" fill="#EF7B7E"/>
<rect x="1068.40" y="1985.40" width="5.60" height="52.60" fill="#EF7B7E"/>
<rect x="1066.60" y="1985.40" width="9.20" height="5.60" fill="#EF7B7E"/>
<rect x="1061.00" y="2037.00" width="20.40" height="134.50" fill="#EF7B7E"/>
<rect x="1066.50" y="2042.70" width="9.40" height="128.80" fill="#E4474B"/>
<rect x="1096.35" y="2012.90" width="5.60" height="25.70" fill="#9C1C1B"/>
<rect x="1094.55" y="2012.90" width="9.20" height="5.60" fill="#9C1C1B"/>
<rect x="1088.80" y="2037.60" width="20.70" height="133.90" fill="#9C1C1B"/>
<rect x="1094.60" y="2043.10" width="9.10" height="128.40" fill="#D92324"/>
<rect x="1123.35" y="2000.00" width="5.60" height="8.80" fill="#9E1C1A"/>
<rect x="1121.55" y="2000.00" width="9.20" height="5.60" fill="#9E1C1A"/>
<rect x="1117.00" y="2007.80" width="18.30" height="163.70" fill="#9E1C1A"/>
<rect x="1169.30" y="1896.00" width="5.60" height="70.60" fill="#EF7B7E"/>
<rect x="1167.50" y="1896.00" width="9.20" height="5.60" fill="#EF7B7E"/>
<rect x="1163.20" y="1965.60" width="17.80" height="205.90" fill="#EF7B7E"/>
<rect x="1196.90" y="1897.70" width="5.60" height="28.00" fill="#EF7B7E"/>
<rect x="1195.10" y="1897.70" width="9.20" height="5.60" fill="#EF7B7E"/>
<rect x="1189.50" y="1924.70" width="20.40" height="246.80" fill="#EF7B7E"/>
<rect x="1195.00" y="1930.40" width="9.40" height="241.10" fill="#E4474B"/>
<rect x="1224.05" y="1911.40" width="5.60" height="8.60" fill="#9C1C1B"/>
<rect x="1222.25" y="1911.40" width="9.20" height="5.60" fill="#9C1C1B"/>
<rect x="1216.70" y="1919.00" width="20.30" height="252.50" fill="#9C1C1B"/>
<rect x="1222.50" y="1924.50" width="8.70" height="247.00" fill="#D92324"/>
<rect x="1252.00" y="1902.80" width="5.60" height="5.40" fill="#9E1C1A"/>
<rect x="1250.20" y="1902.80" width="9.20" height="5.60" fill="#9E1C1A"/>
<rect x="1245.60" y="1907.20" width="18.40" height="264.30" fill="#9E1C1A"/>
<rect x="1297.55" y="1834.30" width="5.60" height="159.90" fill="#EF7B7E"/>
<rect x="1295.75" y="1834.30" width="9.20" height="5.60" fill="#EF7B7E"/>
<rect x="1291.30" y="1993.20" width="18.10" height="178.30" fill="#EF7B7E"/>
<rect x="1325.20" y="1913.30" width="5.60" height="9.50" fill="#EF7B7E"/>
<rect x="1323.40" y="1913.30" width="9.20" height="5.60" fill="#EF7B7E"/>
<rect x="1318.00" y="1921.80" width="20.00" height="249.70" fill="#EF7B7E"/>
<rect x="1323.50" y="1927.50" width="9.00" height="244.00" fill="#E4474B"/>
<rect x="1353.00" y="1903.40" width="5.60" height="6.10" fill="#9C1C1B"/>
<rect x="1351.20" y="1903.40" width="9.20" height="5.60" fill="#9C1C1B"/>
<rect x="1345.60" y="1908.50" width="20.40" height="263.00" fill="#9C1C1B"/>
<rect x="1351.40" y="1914.00" width="8.80" height="257.50" fill="#D92324"/>
<rect x="1380.30" y="1900.00" width="5.60" height="4.20" fill="#9E1C1A"/>
<rect x="1378.50" y="1900.00" width="9.20" height="5.60" fill="#9E1C1A"/>
<rect x="1374.00" y="1903.20" width="18.20" height="268.30" fill="#9E1C1A"/>
<rect x="888.00" y="2171.40" width="516.60" height="6.00" fill="#000"/>
<rect x="953.50" y="2177.40" width="6.00" height="7.00" fill="#000"/>
<rect x="1082.00" y="2177.40" width="6.00" height="7.00" fill="#000"/>
<rect x="1210.00" y="2177.40" width="6.00" height="7.00" fill="#000"/>
<rect x="1338.70" y="2177.40" width="6.00" height="7.00" fill="#000"/>
<text transform="translate(865.96,2183.06) scale(0.9500,1)" font-family="&quot;Liberation Sans&quot;, sans-serif" font-weight="bold" font-size="29.50" fill="#141414" >0</text>
<text transform="translate(852.38,2046.66) scale(0.9500,1)" font-family="&quot;Liberation Sans&quot;, sans-serif" font-weight="bold" font-size="29.50" fill="#141414" >50</text>
<text transform="translate(838.29,1910.26) scale(0.9500,1)" font-family="&quot;Liberation Sans&quot;, sans-serif" font-weight="bold" font-size="29.50" fill="#141414" >100</text>
<text transform="translate(949.57,2211.70) scale(0.9500,1)" font-family="&quot;Liberation Sans&quot;, sans-serif" font-weight="bold" font-size="29.50" fill="#141414" >4</text>
<text transform="translate(1078.20,2212.00) scale(0.9500,1)" font-family="&quot;Liberation Sans&quot;, sans-serif" font-weight="bold" font-size="29.50" fill="#141414" >6</text>
<text transform="translate(1206.19,2212.00) scale(0.9500,1)" font-family="&quot;Liberation Sans&quot;, sans-serif" font-weight="bold" font-size="29.50" fill="#141414" >8</text>
<text transform="translate(1326.81,2212.00) scale(0.9500,1)" font-family="&quot;Liberation Sans&quot;, sans-serif" font-weight="bold" font-size="29.50" fill="#141414" >10</text>
<text transform="translate(1078.28,2246.00) scale(0.9696,1)" font-family="&quot;Liberation Sans&quot;, sans-serif" font-weight="bold" font-size="33.72" fill="#141414">Voltage [V]</text>
<text transform="translate(821.46,2159.32) rotate(-90) scale(0.8903,1)" font-family="&quot;Liberation Sans&quot;, sans-serif" font-weight="bold" font-size="30.58" fill="#141414">NBC in center outlet [%]</text>
<rect x="237.00" y="2265.70" width="49.80" height="24.80" fill="#EF7B7E"/>
<rect x="497.00" y="2267.50" width="55.00" height="27.50" fill="#EF7B7E"/>
<rect x="502.50" y="2273.00" width="44.00" height="16.50" fill="#E4474B"/>
<rect x="785.30" y="2266.70" width="56.70" height="27.60" fill="#9C1C1B"/>
<rect x="790.80" y="2272.20" width="45.70" height="16.60" fill="#D92324"/>
<rect x="1082.00" y="2269.00" width="49.80" height="25.30" fill="#9E1C1A"/>
<text transform="translate(298.52,2289.24) scale(1.0850,1)" font-family="&quot;Liberation Sans&quot;, sans-serif" font-weight="normal" font-size="30.00" fill="#141414" >1 000/ml</text>
<text transform="translate(567.52,2289.24) scale(1.0850,1)" font-family="&quot;Liberation Sans&quot;, sans-serif" font-weight="normal" font-size="30.00" fill="#141414" >10 000/ml</text>
<text transform="translate(845.91,2289.24) scale(1.0900,1)" font-family="&quot;Liberation Sans&quot;, sans-serif" font-weight="normal" font-size="30.00" fill="#141414" >100 000/ml</text>
<text transform="translate(1138.51,2289.24) scale(1.0900,1)" font-family="&quot;Liberation Sans&quot;, sans-serif" font-weight="normal" font-size="30.00" fill="#141414" >1 000 000/ml</text>
</svg></body></html>
